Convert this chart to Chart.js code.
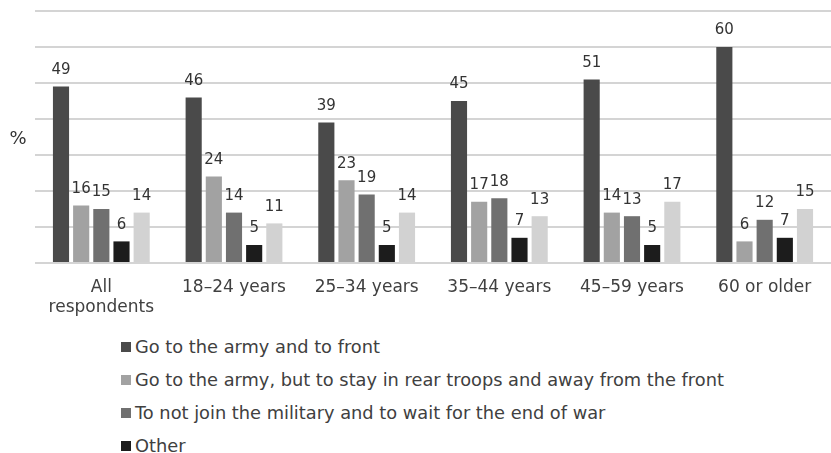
<!DOCTYPE html>
<html>
<head>
<meta charset="utf-8">
<script src="https://cdn.jsdelivr.net/npm/chart.js@4/dist/chart.umd.min.js"></script>
<style>
    html, body { margin: 0; padding: 0; background: #fff; overflow: hidden; }
    #wrap { position: relative; width: 831px; height: 318px; }
    #leyenda { margin: 12px 0 0 121px; padding: 0; list-style: none;
        font-family: "DejaVu Sans", Verdana, sans-serif; font-size: 17.8px; color: #404040; }
    #leyenda li { height: 33px; display: flex; align-items: center; white-space: nowrap; }
    #leyenda li .caja { display: inline-block; width: 10px; height: 10px; margin-right: 4px; flex: none; }
</style>
</head>
<body>
<div id="wrap"><canvas id="miGrafica"></canvas></div>
<ul id="leyenda"></ul>
<script>
const grupos = [['All', 'respondents'], '18\u201324 years', '25\u201334 years', '35\u201344 years', '45\u201359 years', '60 or older'];

const alFrente = [49, 46, 39, 45, 51, 60];
const retaguardia = [16, 24, 23, 17, 14, 6];
const noUnirse = [15, 14, 19, 18, 13, 12];
const otro = [6, 5, 5, 7, 5, 7];
const difícil = [14, 11, 14, 13, 17, 15];

const series = [
    { label: 'Go to the army and to front', data: alFrente, color: '#4a4a4a' },
    { label: 'Go to the army, but to stay in rear troops and away from the front', data: retaguardia, color: '#a2a2a2' },
    { label: 'To not join the military and to wait for the end of war', data: noUnirse, color: '#707070' },
    { label: 'Other', data: otro, color: '#1c1c1c' },
    { label: 'Difficult to answer', data: difícil, color: '#d2d2d2' }
];

// valores encima de cada barra y el "%" a la izquierda
const etiquetasPlugin = {
    id: 'etiquetas',
    afterDatasetsDraw(chart) {
        const ctx = chart.ctx;
        ctx.save();
        ctx.font = '15px "DejaVu Sans", Verdana, sans-serif';
        ctx.fillStyle = '#333';
        ctx.textAlign = 'center';
        ctx.textBaseline = 'bottom';
        chart.data.datasets.forEach((ds, i) => {
            chart.getDatasetMeta(i).data.forEach((bar, j) => {
                ctx.fillText(ds.data[j], bar.x, bar.y - 9);
            });
        });
        ctx.font = '18px "DejaVu Sans", Verdana, sans-serif';
        ctx.textBaseline = 'middle';
        ctx.fillText('%', 18, 139);
        ctx.restore();
    }
};

const ctx = document.getElementById('miGrafica').getContext('2d');
new Chart(ctx, {
    type: 'bar',
    data: {
        labels: grupos,
        datasets: series.map(s => ({
            label: s.label,
            data: s.data,
            backgroundColor: s.color,
            borderWidth: 0,
            categoryPercentage: 0.76,
            barPercentage: 0.8
        }))
    },
    options: {
        responsive: true,
        maintainAspectRatio: false,
        animation: false,
        layout: { padding: { left: 35, top: 11, right: 0, bottom: 0 } },
        plugins: { legend: { display: false }, tooltip: { enabled: false } },
        scales: {
            x: {
                grid: { display: false, drawTicks: false },
                border: { display: false },
                ticks: {
                    padding: 14,
                    color: '#404040',
                    font: { family: '"DejaVu Sans", Verdana, sans-serif', size: 17 }
                },
                afterFit(scale) { scale.height = 55; }
            },
            y: {
                min: 0,
                max: 70,
                ticks: { display: false, stepSize: 10 },
                grid: { color: '#d4d4d4', lineWidth: 2, drawTicks: false },
                border: { display: false }
            }
        }
    },
    plugins: [etiquetasPlugin]
});

// leyenda en lista vertical
const leyenda = document.getElementById('leyenda');
series.slice(0, 4).forEach(s => {
    const li = document.createElement('li');
    li.innerHTML = '<span class="caja" style="background:' + s.color + '"></span>' + s.label;
    leyenda.appendChild(li);
});
</script>
</body>
</html>
